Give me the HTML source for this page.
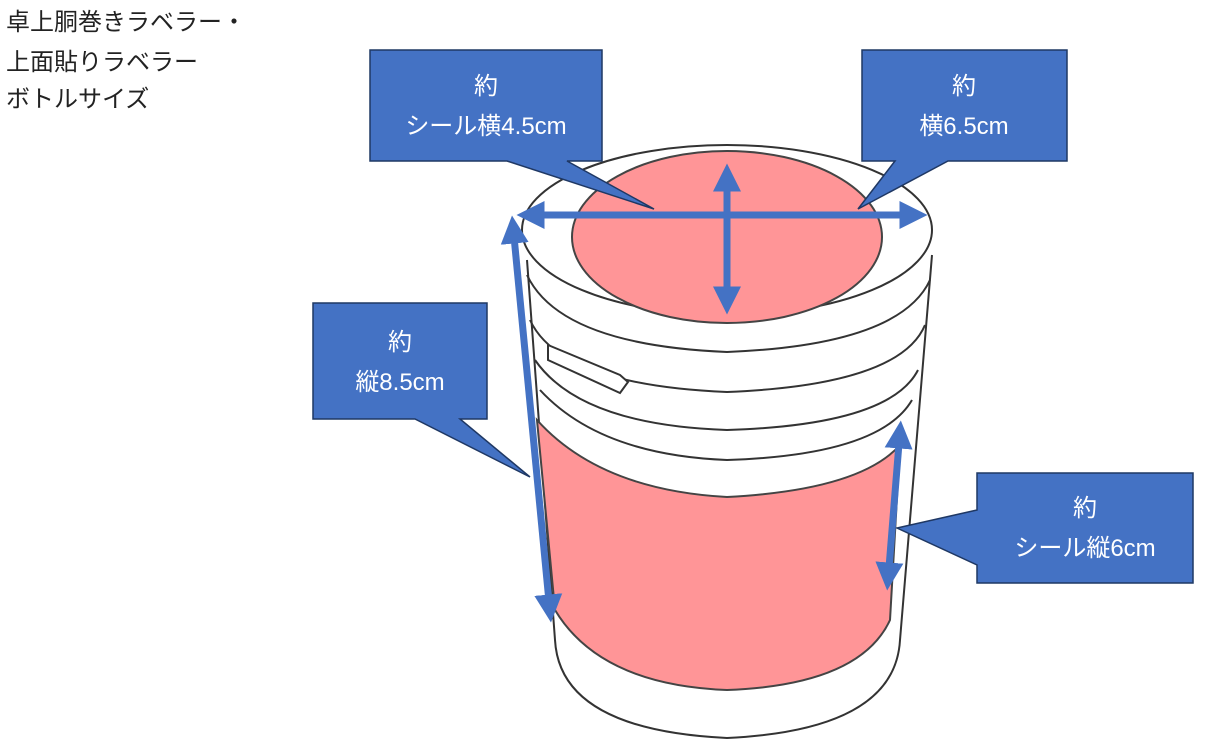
<!DOCTYPE html>
<html><head><meta charset="utf-8"><style>
body{margin:0;background:#fff;width:1208px;height:747px;overflow:hidden;font-family:"Liberation Sans","Noto Sans CJK JP",sans-serif}
svg{position:absolute;left:0;top:0}
</style></head><body>
<svg width="1208" height="747" viewBox="0 0 1208 747" font-family="'Liberation Sans','Noto Sans CJK JP',sans-serif">
<defs>
<marker id="ah" markerWidth="4" markerHeight="4" refX="2.5" refY="2" orient="auto-start-reverse" markerUnits="strokeWidth"><path d="M0,0 L4,2 L0,4 Z" fill="#4472C4"/></marker>
</defs>
<g font-size="24" fill="#222">
<text x="6" y="30">卓上胴巻きラベラー・</text>
<text x="6" y="70">上面貼りラベラー</text>
<text x="6" y="107">ボトルサイズ</text>
</g>
<g fill="none" stroke="#333" stroke-width="2">
<path d="M527,260 L555,640 Q560,730 727,738 Q895,730 900,640 L932,255" fill="#fff"/>
<ellipse cx="727" cy="230" rx="205" ry="85" fill="#fff"/>
<path d="M537,420 Q600,490 727,497 Q860,490 900,445 L890,620 Q860,685 727,690 Q600,685 555,610 Z" fill="#ff9597" stroke="#444"/>
<ellipse cx="727" cy="237" rx="155" ry="86" fill="#ff9597" stroke="#444"/>
<path d="M527,275 Q560,345 727,352 Q900,345 930,280"/>
<path d="M530,320 Q560,385 727,392 Q900,385 925,325"/>
<path d="M535,360 Q580,425 727,430 Q890,425 918,370"/>
<path d="M540,390 Q600,455 727,460 Q880,455 912,400"/>
<path d="M548,345 L620,375 L628,382 L620,393 L548,360 Z" fill="#fff"/>
</g>
<g fill="#4472C4" stroke="#1f3864" stroke-width="1.5">
<path d="M370,50 H602 V161 H567 L654,209 L507,161 H370 Z"/>
<path d="M862,50 H1067 V161 H948 L858,209 L895,161 H862 Z"/>
<path d="M313,303 H487 V419 H460 L530,477 L415,419 H313 Z"/>
<path d="M977,473 H1193 V583 H977 V565 L897,528 L977,510 Z"/>
</g>
<g fill="#fff" font-size="24" text-anchor="middle">
<text x="486" y="94">約</text><text x="486" y="134">シール横4.5cm</text>
<text x="964" y="94">約</text><text x="964" y="134">横6.5cm</text>
<text x="400" y="350">約</text><text x="400" y="390">縦8.5cm</text>
<text x="1085" y="516">約</text><text x="1085" y="556">シール縦6cm</text>
</g>
<g stroke="#4472C4" stroke-width="7" fill="none">
<line x1="527" y1="215" x2="917" y2="215" marker-start="url(#ah)" marker-end="url(#ah)"/>
<line x1="727" y1="174" x2="727" y2="304" marker-start="url(#ah)" marker-end="url(#ah)"/>
<line x1="513" y1="226" x2="550" y2="612" marker-start="url(#ah)" marker-end="url(#ah)"/>
<line x1="900" y1="431" x2="888" y2="580" marker-start="url(#ah)" marker-end="url(#ah)"/>
</g>
</svg>
</body></html>
